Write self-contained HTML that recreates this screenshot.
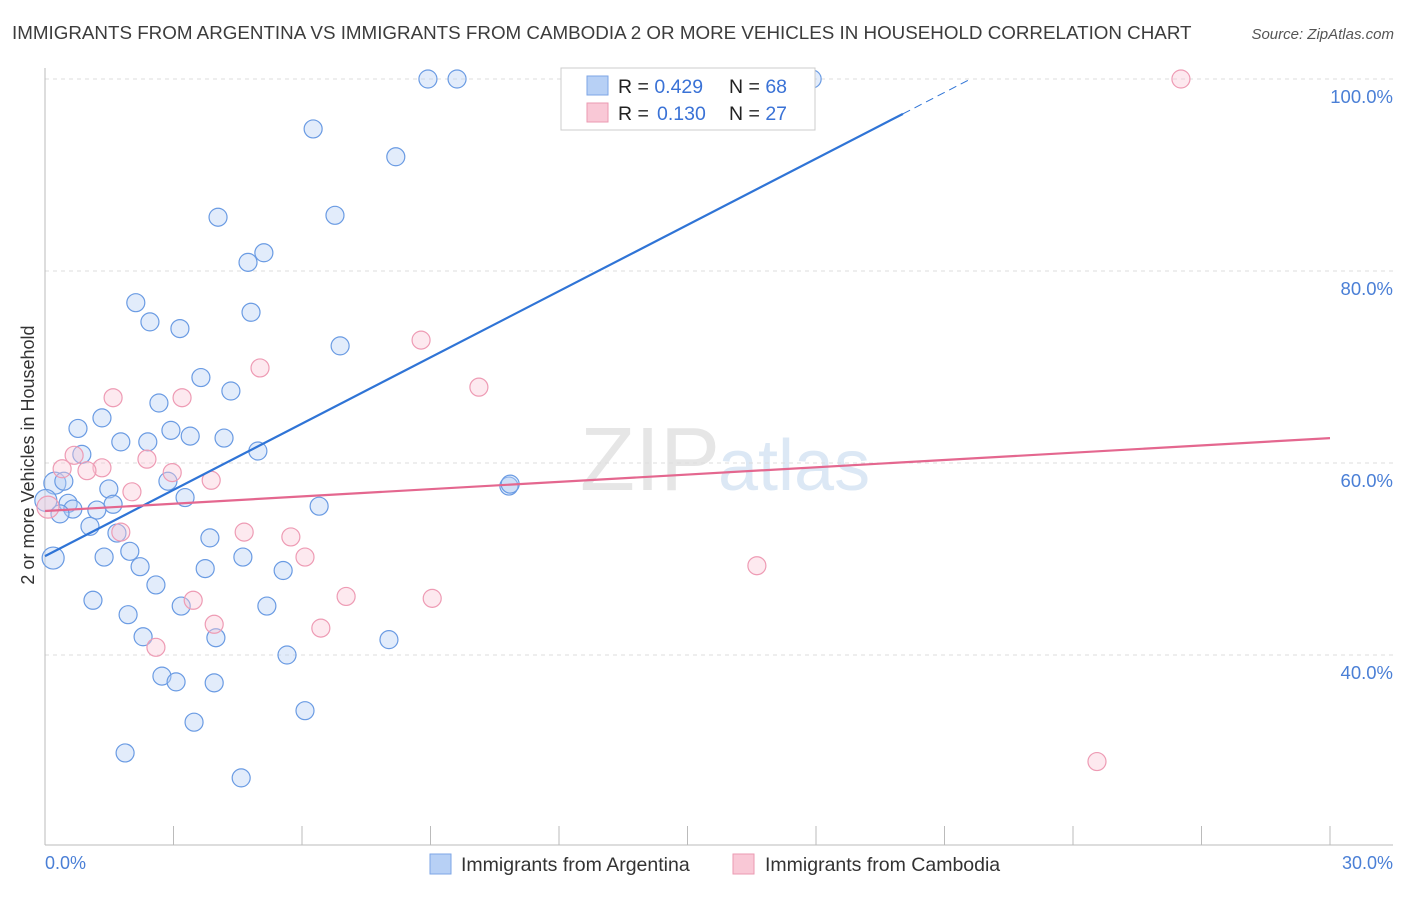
<!DOCTYPE html>
<html><head><meta charset="utf-8"><style>
body{margin:0;background:#fff;font-family:"Liberation Sans",sans-serif}
svg text{font-family:"Liberation Sans",sans-serif}
</style></head><body>
<svg id="chart" width="1406" height="892" viewBox="0 0 1406 892">
<text x="12" y="39" font-size="18.8" fill="#3c3c3c">IMMIGRANTS FROM ARGENTINA VS IMMIGRANTS FROM CAMBODIA 2 OR MORE VEHICLES IN HOUSEHOLD CORRELATION CHART</text>
<text x="1394" y="39" font-size="15" fill="#555" font-style="italic" text-anchor="end">Source: ZipAtlas.com</text>
<text x="720" y="490" font-size="90" fill="#e6e6e6" text-anchor="end" font-family="Liberation Serif">ZIP</text>
<text x="718" y="490" font-size="72" fill="#dce8f5">atlas</text>
<g id="grid"></g><g id="axes"></g><g id="pts"></g><g id="lines"></g>
<text x="34" y="455" font-size="18" fill="#333" text-anchor="middle" transform="rotate(-90 34 455)">2 or more Vehicles in Household</text>
<text x="45" y="869" font-size="18" fill="#4a7fd6">0.0%</text>
<text x="1393" y="869" font-size="18" fill="#4a7fd6" text-anchor="end">30.0%</text>
<g>
<rect x="561" y="68" width="254" height="62" fill="#fff" stroke="#ccc"/>
<rect x="587" y="76" width="21" height="19" fill="#b7d0f5" stroke="#7ea6e6"/>
<rect x="587" y="103" width="21" height="19" fill="#f9c8d6" stroke="#eb9ab2"/>
<text x="618" y="93" font-size="19.5" fill="#222">R = <tspan fill="#3a72d6">0.429</tspan><tspan x="729">N = </tspan><tspan fill="#3a72d6">68</tspan></text>
<text x="618" y="120" font-size="19.5" fill="#222">R = <tspan fill="#3a72d6" x="657">0.130</tspan><tspan x="729">N = </tspan><tspan fill="#3a72d6">27</tspan></text>
</g>
<g>
<rect x="430" y="854" width="21" height="20" fill="#b7d0f5" stroke="#7ea6e6"/>
<text x="461" y="871" font-size="19.5" fill="#333">Immigrants from Argentina</text>
<rect x="733" y="854" width="21" height="20" fill="#f9c8d6" stroke="#eb9ab2"/>
<text x="765" y="871" font-size="19.5" fill="#333">Immigrants from Cambodia</text>
</g>
</svg>
<script>
const yTicks=[40,60,80,100];
const blueX=[8.94,9.62,17.91,6.26,8.19,4.04,6.77,5.11,4.74,2.12,4.81,2.45,3.15,6.89,3.64,4.34,2.66,1.33,0.77,2.94,1.77,3.39,2.40,4.18,4.97,0.86,2.87,0.23,0.44,1.49,3.27,0.54,1.59,0.65,1.21,0.35,6.40,1.05,1.68,3.85,10.83,10.86,1.98,1.38,4.62,2.22,3.74,5.56,2.59,1.12,3.18,5.18,1.94,2.29,3.99,8.03,5.65,2.73,3.06,3.95,6.07,3.48,1.87,4.58,0.19,0.02];
const blueY=[100,100,100,94.8,91.9,85.6,85.8,81.9,80.9,76.7,75.7,74.7,74.0,72.2,68.9,67.5,66.25,64.7,63.6,63.4,62.2,62.8,62.2,62.6,61.25,60.9,58.1,57.9,58.1,57.3,56.4,55.8,55.7,55.2,55.1,54.7,55.5,53.4,52.7,52.2,57.6,57.8,50.8,50.2,50.2,49.2,49.0,48.8,47.3,45.7,45.1,45.1,44.2,41.9,41.8,41.6,40.0,37.8,37.2,37.1,34.2,33.0,29.8,27.2,50.1,56.1];
const pinkX=[26.52,8.78,5.02,10.13,1.59,3.20,2.38,0.68,0.40,1.33,0.98,2.97,3.88,2.03,1.77,4.65,5.74,6.07,16.62,7.03,9.04,3.46,3.95,6.44,2.59,24.56,0.07];
const pinkY=[100,72.8,69.9,67.9,66.8,66.8,60.4,60.8,59.4,59.5,59.2,59.0,58.2,57.0,52.8,52.8,52.3,50.2,49.3,46.1,45.9,45.7,43.2,42.8,40.8,28.9,55.4];
const blueTrend=[50.3,2.30];
const pinkTrend=[55.0,0.253];
const NS='http://www.w3.org/2000/svg';
const sx=v=>45+v*1285/30, sy=v=>79+(100-v)*9.6;
function mk(t,a,p){const e=document.createElementNS(NS,t);for(const k in a)e.setAttribute(k,a[k]);p.appendChild(e);return e;}
const grid=document.getElementById('grid'),axes=document.getElementById('axes'),pts=document.getElementById('pts'),lines=document.getElementById('lines');
yTicks.forEach(v=>{
 const g=mk('line',{x1:45,x2:1393,y1:sy(v),y2:sy(v),stroke:'#ddd','stroke-dasharray':'4,4'},grid);
 
 
 const t=mk('text',{x:1393,y:sy(v)+24,'font-size':18.5,fill:'#4a7fd6','text-anchor':'end'},grid);
 t.textContent=v.toFixed(1)+'%';
 
 
});
const ya=mk('line',{x1:45,x2:45,y1:68,y2:845,stroke:'#bbb'},axes);


const xa=mk('line',{x1:45,x2:1393,y1:845,y2:845,stroke:'#bbb'},axes);


for(let i=0;i<=10;i++){
 const tk=mk('line',{x1:sx(i*3),x2:sx(i*3),y1:826,y2:845,stroke:'#bbb'},axes);
 
 
}
function dots(X,Y,fill,stroke,name){
 X.forEach((x,i)=>{
  const big=(x<0.3);
  const c=mk('circle',{cx:sx(x),cy:sy(Y[i]),r:big?11:9,fill:fill,'fill-opacity':0.4,stroke:stroke,'stroke-width':1.2},pts);
  
  
 });
}
dots(blueX,blueY,'#b7d0f5','#6a9be3','point-argentina');
dots(pinkX,pinkY,'#f9c8d6','#ee9bb4','point-cambodia');
const bEnd=20.03, bTop=(100-blueTrend[0])/blueTrend[1];
const bl=mk('line',{x1:sx(0),y1:sy(blueTrend[0]),x2:sx(bEnd),y2:sy(blueTrend[0]+blueTrend[1]*bEnd),stroke:'#2f74d6','stroke-width':2.2},lines);


const bd=mk('line',{x1:sx(bEnd),y1:sy(blueTrend[0]+blueTrend[1]*bEnd),x2:sx(bTop),y2:sy(100),stroke:'#2f74d6','stroke-width':1,'stroke-dasharray':'8,5'},lines);


const pl=mk('line',{x1:sx(0),y1:sy(pinkTrend[0]),x2:sx(30),y2:sy(pinkTrend[0]+pinkTrend[1]*30),stroke:'#e4678f','stroke-width':2.2},lines);


</script>
</body></html>
